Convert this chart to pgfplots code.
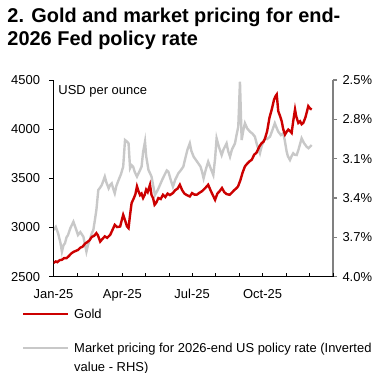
\documentclass[border=0pt]{standalone}
\usepackage{fontspec}
\setmainfont{Liberation Sans}
\usepackage{pgfplots}
\usepackage{pgfplotstable}
\pgfplotsset{compat=1.18}
\definecolor{goldred}{RGB}{204,0,0}
\definecolor{rategray}{RGB}{200,200,200}
\definecolor{axgray}{RGB}{128,128,128}

\pgfplotstableread{
day value
0 2640
3 2655
5 2648
8 2668
11 2672
14 2690
17 2688
20 2710
23 2735
26 2752
29 2762
32 2772
35 2795
38 2805
41 2835
44 2851
47 2870
50 2905
53 2915
56 2943
58 2920
61 2857
64 2885
67 2910
70 2895
74 2925
77 2975
80 3027
83 3005
87 3010
89 3070
91 3129
94 3060
96 3010
98 2994
100 3130
102 3249
105 3300
107 3340
109 3418
111 3370
113 3330
115 3345
117 3300
119 3330
121 3385
123 3360
126 3435
128 3330
130 3300
132 3231
134 3250
137 3300
140 3290
143 3333
146 3310
149 3345
152 3330
156 3351
159 3380
162 3395
165 3435
168 3380
171 3345
174 3330
178 3316
181 3350
184 3335
187 3333
190 3350
194 3370
198 3400
202 3435
205 3380
208 3330
211 3282
214 3345
217 3370
220 3402
223 3360
226 3340
230 3333
233 3355
236 3380
239 3400
241 3418
244 3480
247 3560
250 3622
253 3650
256 3673
259 3690
262 3740
265 3760
269 3826
272 3860
274 3870
276 3900
279 3980
282 4116
285 4200
288 4300
290 4336
291.5 4353
293.5 4183
296 4130
298 4081
300 4000
302.3 3945
305 3980
306.6 3996
309 3980
311 3962
313 4080
315.4 4200
317 4130
319.7 4064
322 4080
324 4050
326.2 4064
329 4120
331 4180
332.7 4234
335 4210
337.2 4200
}\golddata

\pgfplotstableread{
day rate
0 3.644
3 3.62
6 3.669
9 3.74
11 3.809
13 3.76
15 3.745
17 3.70
19 3.682
22 3.63
26 3.581
29 3.63
32 3.682
35 3.66
39 3.695
41 3.75
43 3.809
45 3.76
48 3.707
50 3.67
52 3.644
54 3.57
56 3.491
58.5 3.339
61 3.32
63 3.301
65 3.27
67 3.237
69 3.28
72 3.326
74 3.30
76 3.288
78 3.33
80 3.364
82 3.31
85 3.263
88 3.22
91 3.161
93.4 2.958
96 2.97
98 2.983
100 3.173
102 3.15
104 3.161
106 3.20
109 3.237
112 3.20
115 3.161
117 3.05
119.5 2.970
121 3.08
124 3.186
126 3.21
128 3.237
130 3.30
132.5 3.377
136 3.34
139 3.301
142 3.26
146 3.212
148 3.19
150 3.199
153 3.26
156 3.314
159 3.26
163 3.212
166 3.19
169.5 3.161
172 3.10
175 3.03
178 2.983
180 3.04
183 3.085
186 3.11
189 3.135
192 3.161
194 3.20
196 3.250
199 3.18
202 3.123
205 3.17
208.7 3.225
211 3.10
213 2.945
216 3.01
219.6 3.072
222 3.03
226 2.983
228 3.04
230.5 3.085
233 3.03
237 2.983
239 2.92
241.3 2.856
243.5 2.513
245.7 2.958
248 2.88
250 2.830
253 2.87
256.6 2.894
260 2.91
263 2.932
266 3.00
269.6 3.059
272 3.00
276 2.945
279 2.95
282.7 2.932
286 2.88
289 2.830
291 2.86
293.5 2.894
297 2.92
300 2.906
302 2.96
304.5 3.047
306 3.08
308.8 3.110
311 3.08
313 3.059
315 3.07
317.6 3.072
320 3.03
324 2.945
327 2.98
330.6 3.009
333 3.02
337.2 2.996
}\ratedata

\begin{document}
\begin{tikzpicture}
\useasboundingbox (0,0) rectangle (382bp,373bp);
\node[anchor=base west, inner sep=0pt, font=\fontsize{20}{23}\selectfont\bfseries] at (7.3bp,350.3bp) {2. Gold and market pricing for end-};
\node[anchor=base west, inner sep=0pt, font=\fontsize{20}{23}\selectfont\bfseries] at (7.3bp,327bp) {2026 Fed policy rate};

% right axis: market pricing (inverted)
\begin{axis}[
  at={(53.5bp,96.3bp)}, anchor=south west,
  scale only axis, width=279.5bp, height=196.7bp,
  xmin=0, xmax=365, ymin=2.5, ymax=4.0, y dir=reverse,
  hide x axis,
  axis y line*=right,
  y axis line style={axgray, line width=1.6bp, -},
  ytick={2.5,2.8,3.1,3.4,3.7,4.0},
  yticklabel={\pgfmathprintnumber[fixed,fixed zerofill,precision=1]{\tick}\%},
  /pgf/number format/assume math mode=true,
  ticklabel style={font=\fontsize{13}{15}\selectfont},
  yticklabel style={xshift=2bp},
  tick align=outside, major tick length=4bp,
  ytick style={axgray, line width=1.2bp},
]
\addplot[rategray, line width=2.4bp] table[x=day, y=rate] {\ratedata};
\end{axis}

% left axis: gold
\begin{axis}[
  at={(53.5bp,96.3bp)}, anchor=south west,
  scale only axis, width=279.5bp, height=196.7bp,
  xmin=0, xmax=365, ymin=2500, ymax=4500,
  axis x line*=bottom, axis y line*=left,
  axis line style={black, line width=0.8bp, -},
  xtick={0,31,59,90,120,151,181,212,243,273,304,334,365},
  xticklabels={Jan-25,,,Apr-25,,,Jul-25,,,Oct-25,,,},
  ytick={2500,3000,3500,4000,4500},
  /pgf/number format/1000 sep={},
  /pgf/number format/assume math mode=true,
  ticklabel style={font=\fontsize{13}{15}\selectfont},
  xticklabel style={yshift=-5bp},
  yticklabel style={xshift=-6bp},
  tick align=outside, major tick length=4bp,
  xtick style={black, line width=0.8bp, yshift=4bp},
  ytick style={black, line width=0.8bp},
  legend cell align=left,
  legend image code/.code={\draw[#1] (0bp,0bp) -- (45bp,0bp);},
  legend style={at={(axis description cs:-0.114,-0.157)}, anchor=north west,
    draw=none, fill=none, inner sep=0pt, row sep=20.7bp, column sep=3bp,
    font=\fontsize{13}{19}\selectfont,
    nodes={inner sep=2bp, text height=9bp, text depth=0bp}},
]
\addplot[goldred, line width=2.4bp] table[x=day, y=value] {\golddata};
\addlegendentry{Gold}
\addlegendimage{rategray, line width=2.4bp}
\addlegendentry{\raisebox{0pt}[9bp][0pt]{\parbox[t]{320bp}{Market pricing for 2026-end US policy rate (Inverted\\value - RHS)}}}
\node[anchor=west, inner sep=0pt, font=\fontsize{13}{15}\selectfont] at (axis description cs:0.017,0.94) {USD per ounce};
\end{axis}
\end{tikzpicture}
\end{document}
